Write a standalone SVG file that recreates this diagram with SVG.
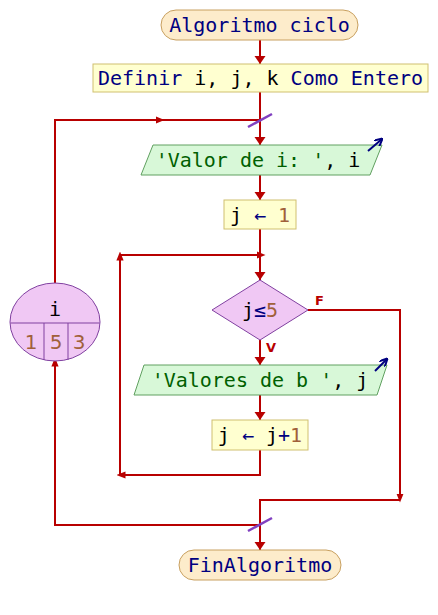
<svg xmlns="http://www.w3.org/2000/svg" width="438" height="615" viewBox="0 0 438 615">
<defs>
<style>
.t{font-family:"DejaVu Sans Mono","Liberation Mono",monospace;font-size:20px;text-anchor:middle;dominant-baseline:central}
.kw{fill:#000080}.blk{fill:#000}.str{fill:#006000}.num{fill:#a0603a}.op{fill:#000080}
.term{fill:#fdeccb;stroke:#c8a060;stroke-width:1}
.proc{fill:#ffffd0;stroke:#d0c070;stroke-width:1}
.io{fill:#d8f8d8;stroke:#60a060;stroke-width:1}
.dec{fill:#f0c8f4;stroke:#8040a0;stroke-width:1}
.c{fill:none;stroke:#b80000;stroke-width:2}
.slash{stroke:#8040c0;stroke-width:2.5}
.lbl{font-family:"DejaVu Sans","Liberation Sans",sans-serif;font-size:13px;font-weight:bold;fill:#b80000}
.oarrow{stroke:#000080;stroke-width:2;fill:none}
.n{font-family:"DejaVu Sans","Liberation Sans",sans-serif;font-size:20px;fill:#a0603a;text-anchor:middle;dominant-baseline:central}
</style>
<marker id="ahm" viewBox="0 0 10 10" refX="5" refY="5" markerWidth="9" markerHeight="9" orient="auto" markerUnits="userSpaceOnUse">
<path d="M0,1 L10,5 L0,9 z" fill="#b80000"/>
</marker>
<marker id="oa" viewBox="0 0 10 10" refX="9" refY="5" markerWidth="8" markerHeight="8" orient="auto" markerUnits="userSpaceOnUse">
<path d="M0,0 L10,5 L0,10" fill="none" stroke="#000080" stroke-width="2.5"/>
</marker>
</defs>
<g id="connectors">
<path class="c" d="M260,40 V64"/>
<path class="c" d="M260,92 V145"/>
<path class="c" d="M55,283 V120 H260"/>
<path class="c" d="M55,120 H160" marker-end="url(#ahm)"/>
<path class="c" d="M260,175 V200"/>
<path class="c" d="M260,229 V280"/>
<path class="c" d="M120,475 V255 H260"/>
<path class="c" d="M120,475 V256" marker-end="url(#ahm)"/>
<path class="c" d="M120,255 H261" marker-end="url(#ahm)"/>
<path class="c" d="M260,340 V365"/>
<path class="c" d="M260,395 V420"/>
<path class="c" d="M260,450 V475 H121" marker-end="url(#ahm)"/>
<path class="c" d="M308,310 H400 V498" marker-end="url(#ahm)"/>
<path class="c" d="M400,500 H260 V550"/>
<path class="c" d="M55,361 V525 H260"/>
<path class="c" d="M55,400 V362" marker-end="url(#ahm)"/>
<g fill="#b80000">
<path d="M254.5,56 L265.5,56 L260,64 z"/>
<path d="M254.5,137 L265.5,137 L260,145 z"/>
<path d="M254.5,192 L265.5,192 L260,200 z"/>
<path d="M254.5,272 L265.5,272 L260,280 z"/>
<path d="M254.5,357 L265.5,357 L260,365 z"/>
<path d="M254.5,412 L265.5,412 L260,420 z"/>
<path d="M254.5,542 L265.5,542 L260,550 z"/>
</g>
<line class="slash" x1="248" y1="127" x2="272" y2="114"/>
<line class="slash" x1="248" y1="531" x2="272" y2="518"/>
<text class="lbl" x="315" y="305">F</text>
<text class="lbl" x="266" y="352">V</text>
</g>
<g id="start">
<rect class="term" x="161" y="10" width="197" height="30" rx="15"/>
<text class="t kw" x="259.5" y="25">Algoritmo ciclo</text>
</g>
<g id="define">
<rect class="proc" x="93" y="64" width="335" height="28"/>
<text class="t" x="260.5" y="78"><tspan class="kw">Definir</tspan><tspan class="blk"> i, j, k </tspan><tspan class="kw">Como Entero</tspan></text>
</g>
<g id="out1">
<polygon class="io" points="153,145 382,145 370,175 141,175"/>
<text class="t" x="258" y="160"><tspan class="str">'Valor de i: '</tspan><tspan class="blk">, i</tspan></text>
<line class="oarrow" x1="368" y1="151" x2="382" y2="139" marker-end="url(#oa)"/>
</g>
<g id="assign1">
<rect class="proc" x="224" y="200" width="72" height="29"/>
<text class="t" x="260" y="214.5"><tspan class="blk">j</tspan><tspan class="op"> ← </tspan><tspan class="num">1</tspan></text>
</g>
<g id="loopfor">
<ellipse class="dec" cx="55" cy="322" rx="45" ry="39"/>
<path d="M10.5,323 H99.5 M44,323 V360 M68,323 V360" stroke="#8040a0" stroke-width="1" fill="none"/>
<text class="t blk" x="55" y="309">i</text>
<text class="n" x="31" y="342">1</text>
<text class="n" x="56" y="342">5</text>
<text class="n" x="79" y="342">3</text>
</g>
<g id="cond">
<polygon class="dec" points="260,280 308,310 260,340 212,310"/>
<text class="t" x="260" y="310"><tspan class="blk">j</tspan><tspan class="op">≤</tspan><tspan class="num">5</tspan></text>
</g>
<g id="out2">
<polygon class="io" points="144,365 387,365 377,395 134,395"/>
<text class="t" x="260" y="380"><tspan class="str">'Valores de b '</tspan><tspan class="blk">, j</tspan></text>
<line class="oarrow" x1="375" y1="371" x2="387" y2="359" marker-end="url(#oa)"/>
</g>
<g id="assign2">
<rect class="proc" x="212" y="420" width="96" height="30"/>
<text class="t" x="260" y="435"><tspan class="blk">j</tspan><tspan class="op"> ← </tspan><tspan class="blk">j</tspan><tspan class="op">+</tspan><tspan class="num">1</tspan></text>
</g>
<g id="end">
<rect class="term" x="179" y="550" width="162" height="30" rx="15"/>
<text class="t kw" x="260" y="565">FinAlgoritmo</text>
</g>
</svg>
